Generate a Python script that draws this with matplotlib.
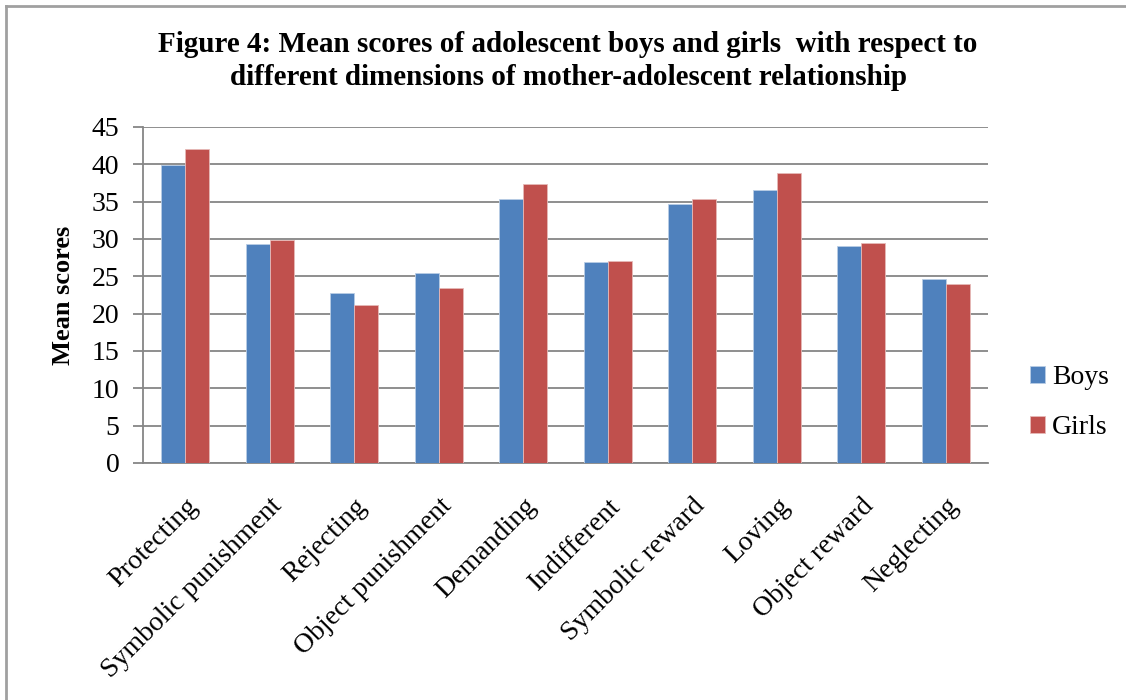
import matplotlib
matplotlib.use("Agg")
import matplotlib.pyplot as plt
import numpy as np
from matplotlib.lines import Line2D

categories = ["Protecting", "Symbolic punishment", "Rejecting", "Object punishment",
              "Demanding", "Indifferent", "Symbolic reward", "Loving",
              "Object reward", "Neglecting"]
boys = [39.9, 29.3, 22.8, 25.4, 35.4, 26.9, 34.7, 36.5, 29.0, 24.6]
girls = [42.0, 29.9, 21.2, 23.5, 37.3, 27.1, 35.3, 38.8, 29.5, 24.0]
series_names = ["Boys", "Girls"]
yticks = list(range(0, 50, 5))

plt.rcParams["font.family"] = ["Liberation Serif", "DejaVu Serif"]

blue = "#4F81BD"
red = "#C0504D"
grid_col = "#868686"

fig = plt.figure(figsize=(11.26, 7.0), dpi=100)
ax = fig.add_axes([0.127, 0.3386, 0.7505, 0.48])

x = np.arange(len(categories))
w = 0.284
ax.bar(x - w / 2, boys, w, color=blue, edgecolor="#b9cde5", linewidth=0.6, label=series_names[0], zorder=3)
ax.bar(x + w / 2, girls, w, color=red, edgecolor="#e6b9b8", linewidth=0.6, label=series_names[1], zorder=3)

ax.set_xlim(-0.5, len(categories) - 0.5)
ax.set_ylim(0, 45)
ax.set_yticks(yticks)
ax.grid(axis="y", color=grid_col, linewidth=1.3, zorder=0)
ax.set_axisbelow(True)

for s in ["top", "right"]:
    ax.spines[s].set_visible(False)
for s in ["left", "bottom"]:
    ax.spines[s].set_color(grid_col)
    ax.spines[s].set_linewidth(1.3)

ax.tick_params(axis="y", length=7, width=1.3, color=grid_col, labelsize=20, pad=10)
ax.tick_params(axis="x", length=0, pad=22)
ax.set_xticks(x)
ax.set_xticklabels(categories, rotation=45, ha="right", rotation_mode="anchor", fontsize=20)
ax.set_ylabel("Mean scores", fontsize=19, fontweight="bold", labelpad=12)

fig.text(0.5045, 0.913,
         "Figure 4: Mean scores of adolescent boys and girls  with respect to\n"
         "different dimensions of mother-adolescent relationship",
         ha="center", va="center", fontsize=21, fontweight="bold", linespacing=1.25)

ax.legend(loc="center left", bbox_to_anchor=(1.02, 0.18), frameon=False,
          fontsize=20, handlelength=0.55, handleheight=0.55, handletextpad=0.25,
          labelspacing=0.9)

# outer frame (left and top edges visible)
fig.add_artist(Line2D([6 / 1126, 6 / 1126], [0, 1 - 6 / 700], color="#a0a0a0", linewidth=2,
                      transform=fig.transFigure))
fig.add_artist(Line2D([6 / 1126, 1], [1 - 6 / 700, 1 - 6 / 700], color="#a0a0a0", linewidth=2,
                      transform=fig.transFigure))

fig.savefig("out.png", dpi=100)
